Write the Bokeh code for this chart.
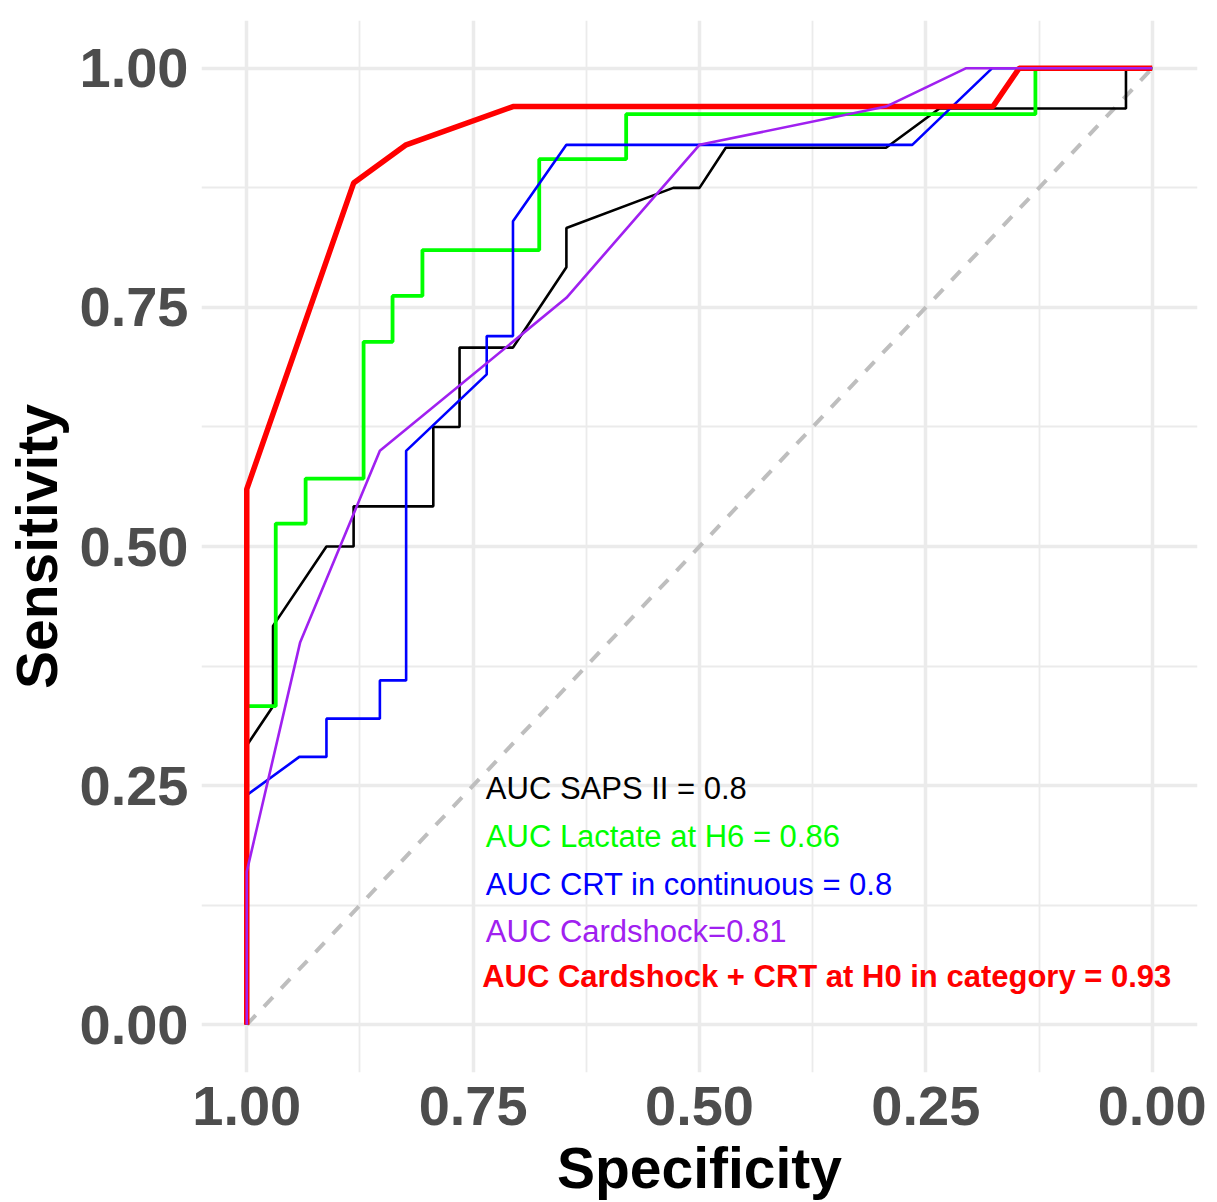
from bokeh.plotting import figure
from bokeh.models import Range1d, FixedTicker, PrintfTickFormatter, ColumnDataSource
from bokeh.core.properties import value
from bokeh.embed import file_html
from bokeh.resources import INLINE

# ---- data (specificity, sensitivity) ----
saps_spec = [1.0, 1.0, 0.971, 0.971, 0.912, 0.882, 0.882, 0.794, 0.794, 0.765, 0.765,
             0.706, 0.647, 0.647, 0.529, 0.5, 0.471, 0.294, 0.235, 0.029, 0.029, 0.0]
saps_sens = [0.0, 0.292, 0.333, 0.417, 0.5, 0.5, 0.542, 0.542, 0.625, 0.625, 0.708,
             0.708, 0.792, 0.833, 0.875, 0.875, 0.917, 0.917, 0.958, 0.958, 1.0, 1.0]

lact_spec = [1.0, 1.0, 0.968, 0.968, 0.935, 0.935, 0.871, 0.871, 0.839, 0.839, 0.806,
             0.806, 0.677, 0.677, 0.581, 0.581, 0.129, 0.129, 0.0]
lact_sens = [0.0, 0.333, 0.333, 0.524, 0.524, 0.571, 0.571, 0.714, 0.714, 0.762, 0.762,
             0.810, 0.810, 0.905, 0.905, 0.952, 0.952, 1.0, 1.0]

crt_spec = [1.0, 1.0, 0.942, 0.912, 0.912, 0.853, 0.853, 0.824, 0.824, 0.735, 0.735,
            0.706, 0.706, 0.647, 0.265, 0.177, 0.0]
crt_sens = [0.0, 0.24, 0.28, 0.28, 0.32, 0.32, 0.36, 0.36, 0.60, 0.68, 0.72,
            0.72, 0.84, 0.92, 0.92, 1.0, 1.0]

card_spec = [1.0, 1.0, 0.941, 0.853, 0.647, 0.5, 0.294, 0.206, 0.0]
card_sens = [0.0, 0.16, 0.40, 0.60, 0.76, 0.92, 0.96, 1.0, 1.0]

comb_spec = [1.0, 1.0, 0.882, 0.824, 0.706, 0.176, 0.147, 0.0]
comb_sens = [0.0, 0.56, 0.88, 0.92, 0.96, 0.96, 1.0, 1.0]

diag_spec = [1.0, 0.0]
diag_sens = [0.0, 1.0]

tick_values = [0.0, 0.25, 0.5, 0.75, 1.0]
minor_values = [0.125, 0.375, 0.625, 0.875]

auc_labels = ["AUC SAPS II = 0.8", "AUC Lactate at H6 = 0.86",
              "AUC CRT in continuous = 0.8", "AUC Cardshock=0.81"]
auc_label_bold = "AUC Cardshock + CRT at H0 in category = 0.93"

# ---- styles / layout ----
FONT = "Liberation Sans"
colors = {"saps": "black", "lact": "#00FF00", "crt": "#0000FF",
          "card": "#A020F0", "comb": "#FF0000"}

p = figure(width=1209, height=1202,
           x_range=Range1d(1.05, -0.05), y_range=Range1d(-0.05, 1.05),
           output_backend="svg", toolbar_location=None,
           min_border_left=201, min_border_right=12,
           min_border_top=20, min_border_bottom=129)
p.outline_line_color = None
p.background_fill_color = "white"
p.border_fill_color = "white"

for ax in (p.xaxis[0], p.yaxis[0]):
    ax.ticker = FixedTicker(ticks=tick_values, minor_ticks=minor_values)
    ax.formatter = PrintfTickFormatter(format="%.2f")
    ax.axis_line_color = None
    ax.major_tick_line_color = None
    ax.minor_tick_line_color = None
    ax.major_label_text_font = FONT
    ax.major_label_text_font_style = "bold"
    ax.major_label_text_font_size = "56px"
    ax.major_label_text_color = "#4D4D4D"
    ax.axis_label_text_font = FONT
    ax.axis_label_text_font_style = "bold"
    ax.axis_label_text_font_size = "57px"
    ax.axis_label_text_color = "black"

p.xaxis.axis_label = "Specificity"
p.yaxis.axis_label = "Sensitivity"
p.xaxis.major_label_standoff = 8
p.yaxis.major_label_standoff = 7
p.xaxis.axis_label_standoff = 8
p.yaxis.axis_label_standoff = 8

for g in (p.xgrid[0], p.ygrid[0]):
    g.grid_line_color = "#EBEBEB"
    g.grid_line_width = 3.5
    g.minor_grid_line_color = "#EBEBEB"
    g.minor_grid_line_width = 1.8

p.line(diag_spec, diag_sens, line_color="#BEBEBE", line_width=4, line_dash="13 12")

p.line(saps_spec, saps_sens, line_color=colors["saps"], line_width=2.6)
p.line(lact_spec, lact_sens, line_color=colors["lact"], line_width=3.8)
p.line(crt_spec, crt_sens, line_color=colors["crt"], line_width=2.6)
p.line(comb_spec, comb_sens, line_color=colors["comb"], line_width=5.5)
p.line(card_spec, card_sens, line_color=colors["card"], line_width=2.6)

label_x = 0.736
label_y = [0.247, 0.197, 0.147, 0.097]
src = ColumnDataSource(dict(x=[label_x] * 4, y=label_y, text=auc_labels,
                            color=[colors["saps"], colors["lact"], colors["crt"], colors["card"]]))
p.text(x="x", y="y", text="text", source=src, text_color="color",
       text_font=value(FONT), text_font_size="31px",
       text_align="left", text_baseline="middle")
p.text(x=[0.740], y=[0.050], text=[auc_label_bold], text_color=colors["comb"],
       text_font=value(FONT), text_font_size="31px", text_font_style="bold",
       text_align="left", text_baseline="middle")

open("out.html", "w").write(file_html(p, INLINE))
